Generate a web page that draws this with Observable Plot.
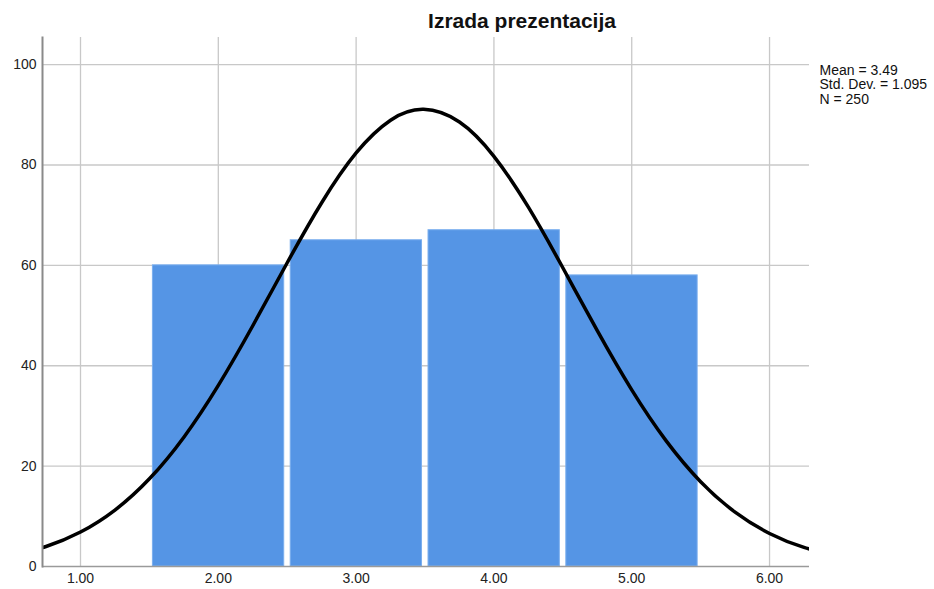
<!DOCTYPE html>
<html>
<head>
<meta charset="utf-8">
<script src="https://cdn.jsdelivr.net/npm/d3@7"></script>
<script src="https://cdn.jsdelivr.net/npm/@observablehq/plot@0.6"></script>
<style>
  html, body { margin: 0; padding: 0; background: #fff; }
  svg { display: block; }
</style>
</head>
<body>
<div id="chart"></div>
<script>
const title = "Izrada prezentacija";
const statsText = ["Mean = 3.49", "Std. Dev. = 1.095", "N = 250"];

const binCenters = [2, 3, 4, 5];
const counts = [60, 65, 67, 58];

const xTicks = [1, 2, 3, 4, 5, 6];
const yTicks = [0, 20, 40, 60, 80, 100];

// normal curve overlay
const curveX = [0.5, 0.75, 1.0, 1.25, 1.5, 1.75, 2.0, 2.25, 2.5, 2.75, 3.0, 3.25, 3.49, 3.75, 4.0, 4.25, 4.5, 4.75, 5.0, 5.25, 5.5, 5.75, 6.0, 6.25, 6.5];
const curveY = [2.19, 3.98, 6.86, 11.24, 17.47, 25.77, 36.09, 47.97, 60.52, 72.48, 82.40, 88.92, 91.08, 88.55, 81.72, 71.59, 59.52, 46.98, 35.19, 25.03, 16.90, 10.83, 6.58, 3.80, 2.08];

const bars = binCenters.map((c, i) => ({c, n: counts[i]}));
const curve = curveX.map((x, i) => ({x, y: curveY[i]}));

const font = "'Liberation Sans', Arial, sans-serif";

const chart = Plot.plot({
  width: 934,
  height: 589,
  marginLeft: 42,
  marginRight: 125,
  marginTop: 37,
  marginBottom: 23,
  style: {fontFamily: font, fontSize: "14px", color: "#222", background: "#fff", overflow: "visible"},
  x: {domain: [0.7242, 6.29]},
  y: {domain: [0, 105.4]},
  marks: [
    Plot.gridX(xTicks, {stroke: "#c8c8c8", strokeOpacity: 1, strokeWidth: 1.3}),
    Plot.gridY(yTicks.filter(d => d > 0), {stroke: "#c8c8c8", strokeOpacity: 1, strokeWidth: 1.3}),
    Plot.rectY(bars, {x1: d => d.c - 0.5, x2: d => d.c + 0.5, y: "n", fill: "#5595e5", stroke: "#7aaeee", strokeWidth: 1, insetLeft: 3.5, insetRight: 3}),
    Plot.line(curve, {x: "x", y: "y", curve: "natural", stroke: "#000", strokeWidth: 3.5, clip: true}),
    Plot.axisX(xTicks, {tickSize: 0, tickPadding: 7, tickFormat: d => d.toFixed(2), fontSize: 14, fill: "#222", label: null}),
    Plot.axisY(yTicks, {tickSize: 0, tickPadding: 6, tickFormat: d => String(d), fontSize: 14, fill: "#222", label: null}),
    Plot.ruleY([0], {stroke: "#9a9a9a", strokeWidth: 1.5}),
    Plot.frame({anchor: "left", stroke: "#8a8a8a", strokeWidth: 2}),
    Plot.text([title], {frameAnchor: "top", dx: 96, dy: -16, fontSize: 21, fontWeight: "bold", fill: "#111", lineAnchor: "middle"}),
    Plot.text([statsText.join("\n")], {frameAnchor: "top-right", dx: 10, dy: 27, textAnchor: "start", lineAnchor: "top", fontSize: 14, lineHeight: 1.03, fill: "#111"})
  ]
});

document.getElementById("chart").appendChild(chart);
</script>
</body>
</html>
